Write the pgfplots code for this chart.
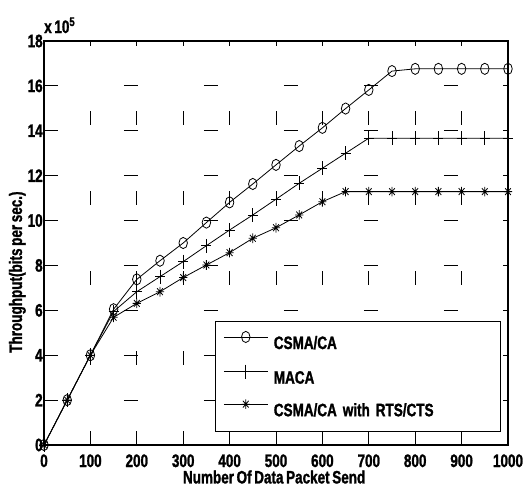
\documentclass[border=0pt]{standalone}
\usepackage{fontspec}
\setmainfont{Liberation Sans}[FakeStretch=0.75, WordSpace=0.7, BoldFeatures={FakeBold=1.4}]
\usepackage{pgfplots}
\pgfplotsset{compat=1.18}

% MATLAB style asterisk: plus and cross on top of each other
\pgfdeclareplotmark{mast}{%
  \pgfpathmoveto{\pgfqpoint{0pt}{\pgfplotmarksize}}%
  \pgfpathlineto{\pgfqpoint{0pt}{-\pgfplotmarksize}}%
  \pgfpathmoveto{\pgfqpoint{\pgfplotmarksize}{0pt}}%
  \pgfpathlineto{\pgfqpoint{-\pgfplotmarksize}{0pt}}%
  \pgfpathmoveto{\pgfqpoint{0.707\pgfplotmarksize}{0.707\pgfplotmarksize}}%
  \pgfpathlineto{\pgfqpoint{-0.707\pgfplotmarksize}{-0.707\pgfplotmarksize}}%
  \pgfpathmoveto{\pgfqpoint{0.707\pgfplotmarksize}{-0.707\pgfplotmarksize}}%
  \pgfpathlineto{\pgfqpoint{-0.707\pgfplotmarksize}{0.707\pgfplotmarksize}}%
  \pgfusepathqstroke}

\newcommand{\lbl}{\fontsize{13.5}{15}\selectfont\bfseries}

\begin{document}
\begin{tikzpicture}
\begin{axis}[
    scale only axis,
    width=348pt, height=303pt,
    xmin=0, xmax=1000, ymin=0, ymax=18,
    xtick={0,100,...,1000},
    ytick={0,2,...,18},
    scaled ticks=false,
    clip=false,
    /pgf/number format/1000 sep={},
    /pgf/number format/assume math mode=true,
    tick align=inside,
    major tick length=3.5pt,
    tick style={black, line width=0.6pt},
    axis line style={line width=1pt},
    grid=major,
    major grid style={black, line width=0.6pt, dash pattern=on 10.5pt off 49.5pt},
    tick label style={font=\lbl},
    xticklabel style={anchor=base, yshift=-16.5pt},
    yticklabel style={anchor=east, inner xsep=0.8pt},
    label style={font=\lbl},
    xlabel={Number Of Data Packet Send},
    xlabel style={at={(axis description cs:0.496,0)}, anchor=center, yshift=-24pt},
    ylabel={Throughput(bits per sec.)},
    ylabel style={at={(axis description cs:0,0.428)}, anchor=center, yshift=20pt},
    legend style={
        at={(axis description cs:0.3685,0.307)}, anchor=north west,
        draw=black, line width=0.6pt, fill=white,
        font=\lbl,
        inner xsep=6pt, inner ysep=7.5pt,
        row sep=8.25pt, column sep=2.25pt,
        cells={anchor=west, inner sep=0pt},
        /tikz/every even column/.append style={text width=162pt, text height=10pt, text depth=2pt},
    },
    legend image code/.code={
        \draw[mark repeat=2, mark phase=2] plot coordinates {(0pt,4.8pt) (16.5pt,4.8pt) (33pt,4.8pt)};
    },
]
\addplot[black, line width=0.6pt, mark=o, mark size=4.2pt, mark options={xscale=0.76}] coordinates {
    (0,0) (50,2.0) (100,4.0) (150,6.05) (200,7.38) (250,8.21) (300,9.0)
    (350,9.91) (400,10.81) (450,11.63) (500,12.48) (550,13.32) (600,14.13)
    (650,14.99) (700,15.82) (750,16.66) (800,16.76) (850,16.76) (900,16.76)
    (950,16.76) (1000,16.76)
};
\addlegendentry{CSMA/CA}
\addplot[black, line width=0.6pt, mark=+, mark size=5.2pt, mark options={xscale=0.72}] coordinates {
    (0,0) (50,2.0) (100,4.0) (150,5.95) (200,6.83) (250,7.5) (300,8.17)
    (350,8.88) (400,9.58) (450,10.25) (500,10.95) (550,11.66) (600,12.33)
    (650,13.0) (700,13.67) (750,13.67) (800,13.67) (850,13.67) (900,13.67)
    (950,13.67) (1000,13.67)
};
\addlegendentry{MACA}
\addplot[black, line width=0.6pt, mark=mast, mark size=3.6pt, mark options={xscale=0.85}] coordinates {
    (0,0) (50,2.0) (100,4.0) (150,5.69) (200,6.31) (250,6.83) (300,7.46)
    (350,8.02) (400,8.57) (450,9.21) (500,9.68) (550,10.25) (600,10.84)
    (650,11.29) (700,11.29) (750,11.29) (800,11.29) (850,11.29) (900,11.29)
    (950,11.29) (1000,11.29)
};
\addlegendentry{CSMA/CA with RTS/CTS}
\node[font=\lbl, anchor=base west, inner sep=0pt] at ([yshift=6pt]rel axis cs:0,1) {x 10\textsuperscript{5}};
\end{axis}
\pgfresetboundingbox
\path (-33pt,-30.75pt) rectangle (361.5pt,333.75pt);
\end{tikzpicture}
\end{document}
